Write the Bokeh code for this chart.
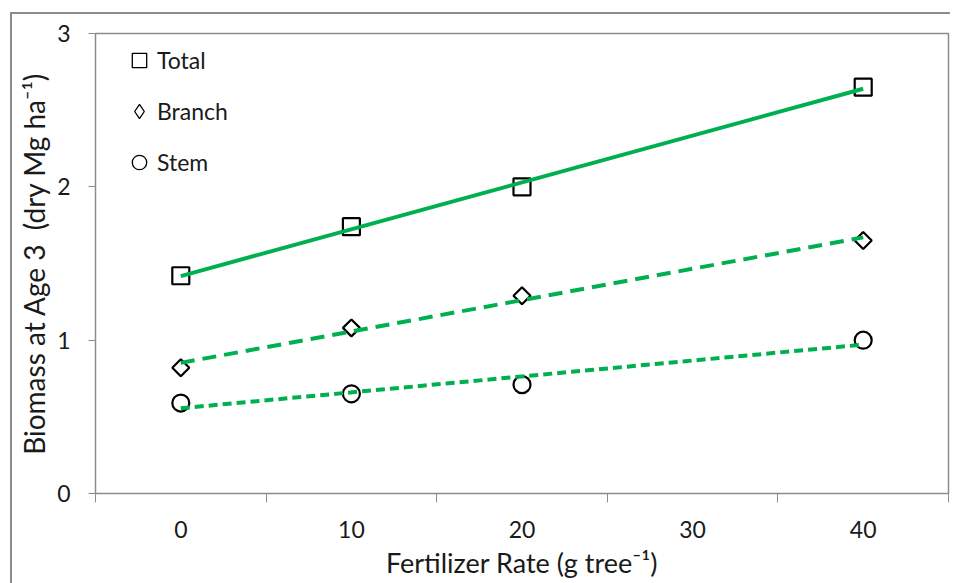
import numpy as np
from bokeh.plotting import figure
from bokeh.models import FixedTicker, Legend, LegendItem, Range1d
from bokeh.embed import file_html
from bokeh.resources import INLINE

# ---- data ----
fert_rate = [0, 10, 20, 40]
total = [1.42, 1.74, 2.00, 2.65]
branch = [0.82, 1.08, 1.29, 1.65]
stem = [0.59, 0.65, 0.71, 1.00]
series_names = ["Total", "Branch", "Stem"]
x_tick_labels = [0, 10, 20, 30, 40]
y_tick_labels = [0, 1, 2, 3]
x_title = "Fertilizer Rate (g tree\u207b\u00b9)"
y_title = "Biomass at Age 3\u00a0\u00a0(dry Mg ha\u207b\u00b9)"

FONT = "Lato"
GREEN = "#00B050"
GRAY = "#8c8c8c"
TXT = "#1a1a1a"

p = figure(width=950, height=583, output_backend="svg", toolbar_location=None,
           x_range=Range1d(-5, 45), y_range=Range1d(0, 3),
           min_border_left=95, min_border_top=33, min_border_bottom=90, min_border_right=2)

p.grid.visible = False
p.outline_line_color = GRAY
p.outline_line_width = 1.5
p.background_fill_color = "white"
p.border_fill_color = None
# outer chart-area frame (left and top edges visible in the reference)
p.styles = {
    "background-color": "white",
    "background-image": f"linear-gradient({GRAY},{GRAY}), linear-gradient({GRAY},{GRAY})",
    "background-size": "2px 100%, 100% 2px",
    "background-position": "10px 12px, 10px 12px",
    "background-repeat": "no-repeat",
}

# x axis: labels at data ticks, tick marks between
xa = p.xaxis[0]
minor_x = [t - 5 for t in x_tick_labels] + [x_tick_labels[-1] + 5]
xa.ticker = FixedTicker(ticks=x_tick_labels, minor_ticks=minor_x)
xa.major_tick_out = 0
xa.major_tick_in = 0
xa.minor_tick_out = 9
xa.minor_tick_in = 0
xa.minor_tick_line_color = GRAY
xa.axis_line_color = GRAY
xa.major_label_standoff = 18
xa.axis_label = x_title
xa.axis_label_standoff = 5
xa.axis_label_text_font_size = "27px"

ya = p.yaxis[0]
ya.ticker = FixedTicker(ticks=y_tick_labels, minor_ticks=[])
ya.major_tick_out = 7
ya.major_tick_in = 0
ya.major_tick_line_color = GRAY
ya.axis_line_color = GRAY
ya.major_label_standoff = 18
ya.axis_label = y_title
ya.axis_label_standoff = 3
ya.axis_label_text_font_size = "28px"

for ax in (xa, ya):
    ax.major_label_text_font = FONT
    ax.major_label_text_font_size = "23px"
    ax.major_label_text_color = TXT
    ax.axis_label_text_font = FONT
    ax.axis_label_text_font_style = "normal"
    ax.axis_label_text_color = TXT

# markers
r_total = p.scatter(fert_rate, total, marker="square", size=17, line_color="black",
                    line_width=2.2, fill_color=None)
r_branch = p.scatter(fert_rate, branch, marker="square", angle=np.pi / 4, size=12,
                     line_color="black", line_width=2.2, fill_color=None)
r_stem = p.scatter(fert_rate, stem, marker="circle", size=17, line_color="black",
                   line_width=2.2, fill_color=None)

# linear trend lines
xs = np.array(fert_rate, dtype=float)
xfit = np.array([min(fert_rate), max(fert_rate)], dtype=float)
for ys, dash in ((total, "solid"), (branch, "14 8"), (stem, "9 5")):
    m, b = np.polyfit(xs, np.array(ys), 1)
    p.line(xfit, m * xfit + b, line_color=GREEN, line_width=4, line_dash=dash)

# legend markers
lg_total = p.scatter([np.nan], [np.nan], marker="square", line_color="black",
                     line_width=1.3, fill_color=None)
lg_branch = p.scatter([np.nan], [np.nan], marker="diamond", line_color="black",
                      line_width=1.3, fill_color=None)
lg_stem = p.scatter([np.nan], [np.nan], marker="circle", line_color="black",
                    line_width=1.3, fill_color=None)

legend = Legend(items=[LegendItem(label=series_names[0], renderers=[lg_total]),
                       LegendItem(label=series_names[1], renderers=[lg_branch]),
                       LegendItem(label=series_names[2], renderers=[lg_stem])],
                location=(26, 313), orientation="vertical")
legend.border_line_color = None
legend.background_fill_alpha = 0
legend.label_text_font = FONT
legend.label_text_font_size = "23px"
legend.label_text_color = TXT
legend.glyph_width = 36
legend.glyph_height = 36
legend.label_height = 36
legend.label_standoff = -4
legend.spacing = 15
legend.padding = 0
legend.margin = 0
p.add_layout(legend)

open("out.html", "w").write(file_html(p, INLINE))
